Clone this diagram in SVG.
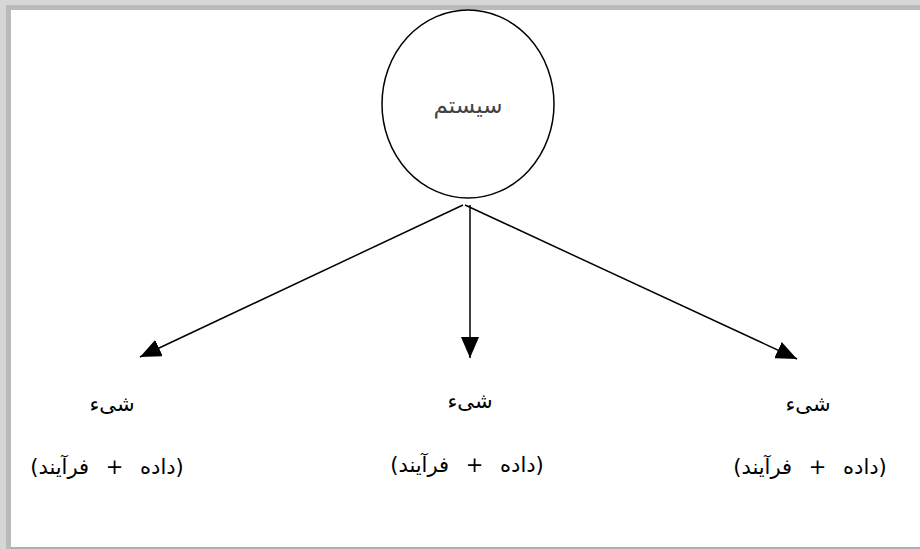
<svg xmlns="http://www.w3.org/2000/svg" width="920" height="549" viewBox="0 0 920 549">
<style>
.lbl{font-family:"DejaVu Sans","Noto Sans",sans-serif;font-size:21px;fill:#000;text-anchor:middle}
.par{word-spacing:10px}
.edge{stroke:#000;stroke-width:1.5;fill:none;marker-end:url(#ah)}
</style>
<defs>
<marker id="ah" markerUnits="userSpaceOnUse" markerWidth="22" markerHeight="18" refX="21" refY="9" orient="auto">
<path d="M0,0 L21,9 L0,18 Z" fill="#000"/>
</marker>
</defs>
<rect x="0" y="0" width="920" height="549" fill="#fff"/>
<rect x="0" y="0" width="920" height="5" fill="#d6d6d6"/>
<rect x="0" y="5" width="920" height="5" fill="#bababa"/>
<rect x="0" y="0" width="6" height="549" fill="#d6d6d6"/>
<rect x="6" y="5" width="5" height="544" fill="#bababa"/>
<rect x="11" y="547" width="909" height="2" fill="#b0b0b0"/>
<g id="system">
<ellipse cx="468" cy="104" rx="86" ry="94" fill="#fff" stroke="#000" stroke-width="1.5"/>
<text class="lbl" x="468" y="113" direction="rtl" style="font-size:23px;fill:#444">سیستم</text>
</g>
<g id="connectors">
<line class="edge" x1="463" y1="205" x2="140" y2="357"/>
<line class="edge" x1="470" y1="205" x2="470" y2="358"/>
<line class="edge" x1="465" y1="205" x2="797" y2="359"/>
</g>
<g id="obj-left">
<text class="lbl" x="112" y="411" direction="rtl">شیء</text>
<text class="lbl par" x="107" y="474" direction="rtl">(داده + فرآیند)</text>
</g>
<g id="obj-middle">
<text class="lbl" x="470" y="408" direction="rtl">شیء</text>
<text class="lbl par" x="467" y="472" direction="rtl">(داده + فرآیند)</text>
</g>
<g id="obj-right">
<text class="lbl" x="808" y="411" direction="rtl">شیء</text>
<text class="lbl par" x="810" y="474" direction="rtl">(داده + فرآیند)</text>
</g>
</svg>
